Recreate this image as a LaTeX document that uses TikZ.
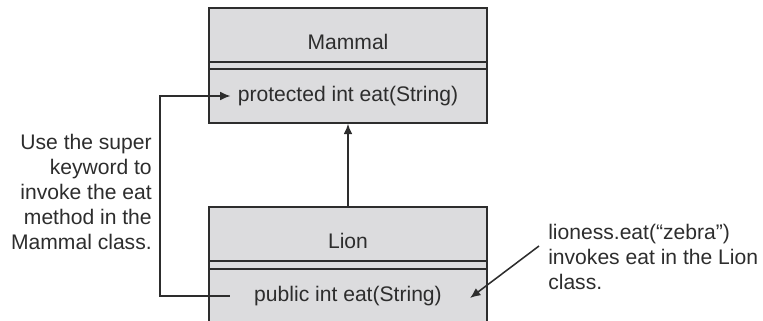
\documentclass[tikz,border=0pt]{standalone}
\usepackage{fontspec}
\setmainfont{Liberation Sans}
\usepackage{xcolor}
\usepackage{tikz}
\usetikzlibrary{arrows.meta, positioning}
\definecolor{boxgray}{RGB}{220,220,222}
\definecolor{inkgray}{RGB}{45,45,45}

\begin{document}
\begin{tikzpicture}[
  font=\fontsize{15}{17.8}\selectfont, text=inkgray,
  classbox/.style={draw=inkgray,fill=boxgray,line width=1.1pt,
                   minimum width=6.95cm,minimum height=1.35cm,inner sep=0pt},
  gapbox/.style={classbox,minimum height=0.175cm},
  classname/.style={classbox,text height=0.73cm,text depth=0pt},
  methodtext/.style={inner sep=0.175cm},
  link/.style={draw=inkgray,line width=1.1pt,-{Latex[length=2.6mm,width=2.2mm]}},
  note/.style={inner sep=0pt}
]
  \path[use as bounding box, clip] (0,0) rectangle (19.075,8.025);

  % Mammal class
  \node[classname] (mammal)    at (8.7,7.15)   {Mammal};
  \node[gapbox]    (mammalgap) at (8.7,6.3875) {};
  \node[classbox]  (mammalops) at (8.7,5.625)  {};
  \node[methodtext] (mammaleat) at (mammalops) {protected int eat(String)};

  % Lion class
  \node[classname] (lion)    at (8.7,2.175) {Lion};
  \node[gapbox]    (liongap) at (8.7,1.4)   {};
  \node[classbox]  (lionops) at (8.7,0.625) {};
  \node[methodtext] (lioneat) at (lionops) {public int eat(String)};

  % notes
  \node[note,align=right,anchor=east] (supernote) at (3.8,3.225)
       {Use the super\\keyword to\\invoke the eat\\method in the\\Mammal class.};
  \node[note,align=left,anchor=west] (lionnote) at (13.7,1.6)
       {lioness.eat(“zebra”)\\invokes eat in the Lion\\class.};

  % Lion extends Mammal
  \draw[link] (lion) -- (mammalops);
  % super.eat call
  \coordinate (superfoot) at ([xshift=-0.425cm]lioneat.west);
  \draw[link] (superfoot) -| ([xshift=0.2cm]supernote.east) |- (mammaleat.west);
  % call on the Lion object
  \coordinate (calltip) at ([xshift=0.525cm,yshift=-0.05cm]lioneat.east);
  \draw[link] ([xshift=-0.225cm,yshift=0.275cm]lionnote.west) -- (calltip);
\end{tikzpicture}
\end{document}
